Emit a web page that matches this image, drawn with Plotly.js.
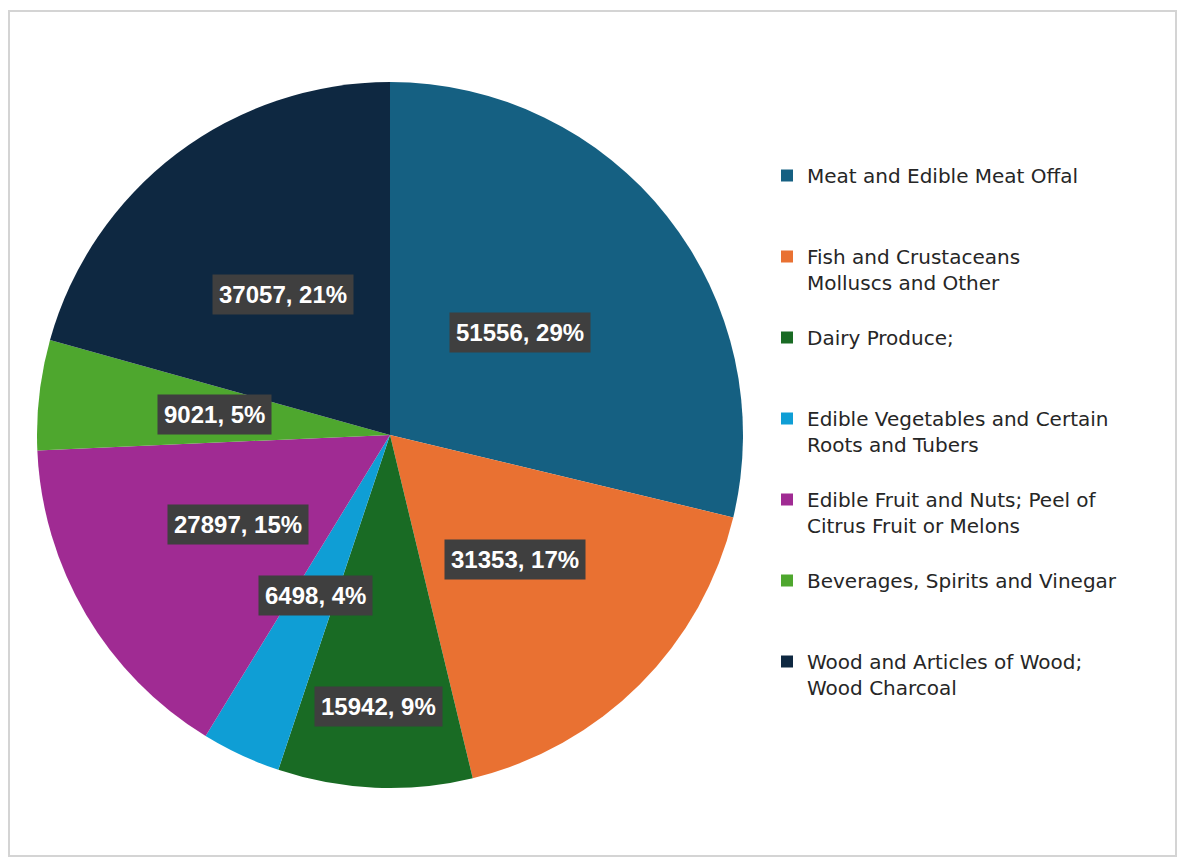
<!DOCTYPE html>
<html>
<head>
<meta charset="utf-8">
<script src="https://cdn.plot.ly/plotly-3.0.1.min.js"></script>
<style>html,body{margin:0;padding:0;background:#fff}#chart{width:1179px;height:858px}</style>
</head>
<body>
<div id="chart"></div>
<script>
// ---- data ----
const categories = [
  "Meat and Edible Meat Offal",
  "Fish and Crustaceans<br>Molluscs and Other",
  "Dairy Produce;",
  "Edible Vegetables and Certain<br>Roots and Tubers",
  "Edible Fruit and Nuts; Peel of<br>Citrus Fruit or Melons",
  "Beverages, Spirits and Vinegar",
  "Wood and Articles of Wood;<br>Wood Charcoal"
];
const values = [51556, 31353, 15942, 6498, 27897, 9021, 37057];
const percentLabels = ["29%", "17%", "9%", "4%", "15%", "5%", "21%"];
const colors = ["#156082", "#E97132", "#196B24", "#0F9ED5", "#A02B93", "#4EA72E", "#0E2841"];

// ---- layout constants (pixels) ----
const W = 1179, H = 858;
const CX = 390, CY = 435, R = 353;
const labelRadiusFrac = [0.47, 0.5, 0.77, 0.5, 0.5, 0.5, 0.5];

// pad legend names to equal 3-line height (Excel spaces entries evenly)
const legendNames = categories.map(c => {
  const n = c.split("<br>").length;
  let s = c;
  for (let i = n; i < 3; i++) s += "<br> ";
  return s;
});

const total = values.reduce((a, b) => a + b, 0);
const annotations = [];
let cum = 0;
values.forEach((v, i) => {
  const mid = (cum + v / 2) / total * 2 * Math.PI;
  cum += v;
  const r = R * labelRadiusFrac[i];
  const px = CX + r * Math.sin(mid);
  const py = CY - r * Math.cos(mid);
  annotations.push({
    x: px / W, y: 1 - py / H, xref: "paper", yref: "paper",
    text: "<b>" + v + ", " + percentLabels[i] + "</b>",
    showarrow: false,
    font: {family: "Liberation Sans, Arial, sans-serif", size: 24, color: "#ffffff"},
    bgcolor: "#3f3f3f",
    borderpad: 6,
    xanchor: "center", yanchor: "middle"
  });
});

const trace = {
  type: "pie",
  labels: legendNames,
  values: values,
  sort: false,
  direction: "clockwise",
  rotation: 0,
  marker: {colors: colors, line: {width: 0}},
  textinfo: "none",
  hoverinfo: "label+value+percent",
  domain: {
    x: [(CX - R) / W, (CX + R) / W],
    y: [1 - (CY + R) / H, 1 - (CY - R) / H]
  }
};

const layout = {
  width: W, height: H,
  margin: {l: 0, r: 0, t: 0, b: 0},
  paper_bgcolor: "#ffffff",
  showlegend: true,
  legend: {
    x: 767 / W, y: 1 - 156 / H, xanchor: "left", yanchor: "top",
    font: {family: "DejaVu Sans, sans-serif", size: 20, color: "#262626"},
    valign: "top",
    bgcolor: "rgba(0,0,0,0)",
    traceorder: "normal"
  },
  annotations: annotations,
  shapes: [{
    type: "rect", xref: "paper", yref: "paper",
    x0: 9 / W, x1: 1176 / W, y0: 1 - 856 / H, y1: 1 - 11 / H,
    line: {color: "#d4d4d4", width: 2}, fillcolor: "rgba(0,0,0,0)", layer: "below"
  }]
};

Plotly.newPlot("chart", [trace], layout, {displayModeBar: false});
</script>
</body>
</html>
